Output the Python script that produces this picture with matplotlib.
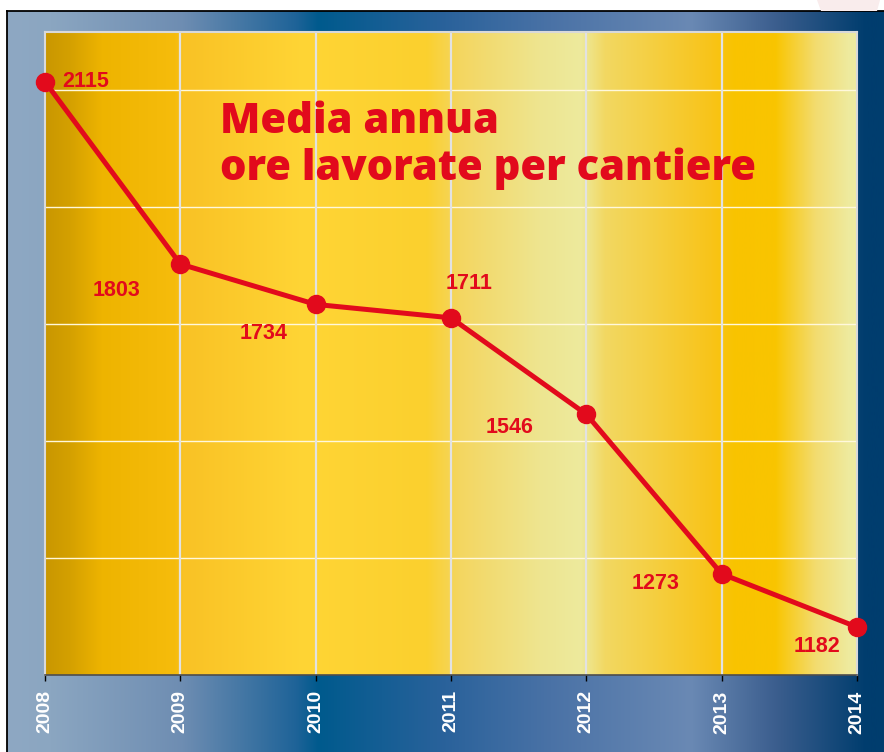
import numpy as np
import matplotlib.pyplot as plt
from matplotlib.colors import to_rgb
from matplotlib.patches import Polygon

# data
years = [2008, 2009, 2010, 2011, 2012, 2013, 2014]
hours = [2115, 1803, 1734, 1711, 1546, 1273, 1182]
year_labels = ['2008', '2009', '2010', '2011', '2012', '2013', '2014']
title = 'Media annua\nore lavorate per cantiere'

# label offsets in pixels (dx, dy with y pointing up)
label_offsets = [(17, 0), (-64, -26), (-52, -29), (18, 34), (-77, -13), (-66, -10), (-40, -19)]

RED = '#E20A1C'
W, H = 884, 752


def gradient(stops, n=900):
    xs = np.linspace(0, 1, n)
    pos = [s[0] for s in stops]
    cols = np.array([to_rgb(s[1]) for s in stops])
    img = np.stack([np.interp(xs, pos, cols[:, k]) for k in range(3)], axis=-1)
    return img[np.newaxis, :, :]


fig = plt.figure(figsize=(W / 100, H / 100), dpi=100)
fig.patch.set_facecolor('white')

# pink corner patch
fig.patches.append(Polygon([(817 / W, 1), (880 / W, 1), (877 / W, 1 - 11 / H), (821 / W, 1 - 11 / H)],
                           closed=True, transform=fig.transFigure, facecolor='#F9ECEC',
                           edgecolor='none', zorder=0))

# blue background panel
bx0 = 7
bg = fig.add_axes([bx0 / W, 0, (W - bx0) / W, 1 - 11 / H])
blue_stops = [(0.0, '#8EA8C3'), (0.05, '#8BA6C1'), (0.2, '#6E8DB2'), (0.33, '#1E6398'),
              (0.355, '#005A8D'), (0.5, '#2A629B'), (0.62, '#4A72A6'), (0.78, '#6A89B4'),
              (0.88, '#3A5D8D'), (0.98, '#003D6E'), (1.0, '#003D6E')]
bg.imshow(gradient(blue_stops), aspect='auto', extent=[0, 1, 0, 1])
bg.set_xlim(0, 1)
bg.set_ylim(0, 1)
bg.set_xticks([])
bg.set_yticks([])
for side in ['right', 'bottom']:
    bg.spines[side].set_visible(False)
for side in ['left', 'top']:
    bg.spines[side].set_color('black')
    bg.spines[side].set_linewidth(1.3)

# plot area
px0, px1, py0, py1 = 45, 857, 32, 675
ax = fig.add_axes([px0 / W, 1 - py1 / H, (px1 - px0) / W, (py1 - py0) / H])
ax.set_xlim(2008, 2014)
ax.set_ylim(1100, 2200)

yellow_stops = [(0.0, '#C99700'), (0.03, '#D4A000'), (0.07, '#EEB400'), (0.16, '#F6BC0C'),
                (0.17, '#F9C225'), (0.32, '#FFD535'), (0.47, '#FBD02E'), (0.51, '#F4D660'),
                (0.61, '#EEE590'), (0.66, '#EDEA9D'), (0.69, '#F2D862'), (0.82, '#F8C41A'),
                (0.85, '#F9C300'), (0.9, '#F9C500'), (0.95, '#F3DC70'), (0.99, '#EEEA9E'),
                (1.0, '#EEEBA0')]
ax.imshow(gradient(yellow_stops), aspect='auto', extent=[2008, 2014, 1100, 2200], zorder=0)

for y in range(1300, 2200, 200):
    ax.axhline(y, color='#FFF8DC', lw=1.0, zorder=1)
for x in years[1:-1]:
    ax.axvline(x, color='#E2E2E2', lw=1.6, zorder=1)

ax.plot(years, hours, color=RED, lw=3.6, marker='o', markersize=13,
        solid_capstyle='round', clip_on=False, zorder=3)

for i, (x, v) in enumerate(zip(years, hours)):
    dx, dy = label_offsets[i]
    ax.annotate(str(v), (x, v), xytext=(dx * 0.72, dy * 0.72), textcoords='offset points',
                ha='left' if i == 0 else 'center', va='center', color=RED,
                fontsize=15.5, fontweight='bold', family='Liberation Sans', zorder=4)

ax.text((220 - px0) / (px1 - px0), (py1 - 101) / (py1 - py0), title, transform=ax.transAxes,
        ha='left', va='top', color=RED, fontsize=30, fontweight='heavy', family='Open Sans',
        linespacing=1.14, zorder=4)

ax.set_xticks(years)
ax.set_xticklabels(year_labels, rotation=90, color='white', fontweight='bold',
                   fontsize=14, family='Liberation Sans')
ax.set_yticks([])
ax.tick_params(axis='x', direction='out', length=4, width=1, color='black', pad=7)
for side in ['left', 'top', 'right']:
    ax.spines[side].set_color('#D9D9D9')
    ax.spines[side].set_linewidth(1.5)
ax.spines['bottom'].set_color('#4D4D4D')
ax.spines['bottom'].set_linewidth(1.2)

fig.savefig('out.png', dpi=100)
